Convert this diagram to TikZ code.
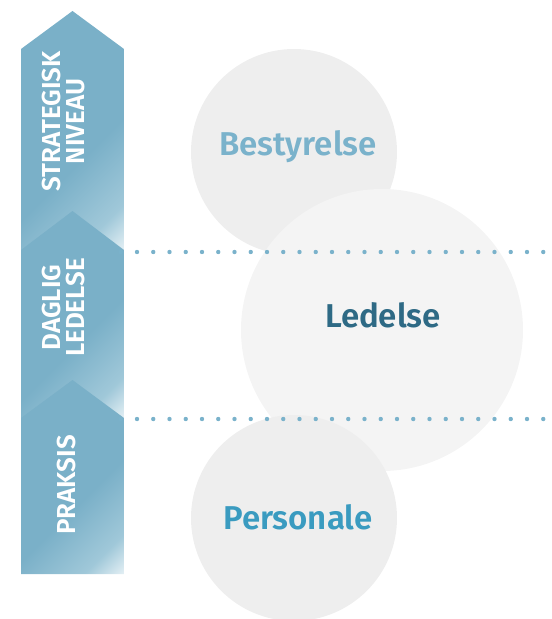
\documentclass[tikz,border=0pt]{standalone}
\usepackage{fontspec}
\setmainfont{Fira Sans}
\newfontfamily\semib{Fira Sans}[UprightFont={* SemiBold}]
\definecolor{segA}{RGB}{122,176,200}
\definecolor{segM}{RGB}{160,200,217}
\definecolor{segB}{RGB}{232,242,246}
\definecolor{dotc}{RGB}{122,178,203}
\definecolor{circA}{RGB}{238,238,238}
\definecolor{circB}{RGB}{244,244,244}
\definecolor{txtA}{RGB}{122,178,203}
\definecolor{txtB}{RGB}{46,106,133}
\definecolor{txtC}{RGB}{58,155,192}
\pgfdeclarehorizontalshading{segfade}{100bp}{color(0bp)=(segA); color(58bp)=(segA); color(76bp)=(segM); color(86bp)=(segB); color(100bp)=(segB)}
\tikzset{
  bigcirc/.style={circle, inner sep=0pt, minimum size=#1},
  circlabel/.style={font=\semib\fontsize{33}{33}\selectfont, inner sep=0pt},
  sidelabel/.style={font=\semib\fontsize{26}{24}\selectfont, text=white, rotate=90, align=center, inner sep=0pt},
  dotline/.style={draw=dotc, line width=4.4pt, line cap=round, dash pattern=on 0pt off 16.25pt}
}
\begin{document}
\begin{tikzpicture}[x=1pt,y=-1pt]
\useasboundingbox (0,0) rectangle (552,619);
% column segments
\begin{scope}
  \clip (21,49) -- (72.5,11) -- (124,49) -- (124,250) -- (21,250) -- cycle;
  \shade[shading=segfade, shading angle=-45] (21,11) rectangle (124,250);
\end{scope}
\begin{scope}
  \clip (21,250) -- (72.5,211) -- (124,250) -- (124,418) -- (21,418) -- cycle;
  \shade[shading=segfade, shading angle=-45] (21,211) rectangle (124,418);
\end{scope}
\begin{scope}
  \clip (21,418) -- (72.5,380) -- (124,418) -- (124,574) -- (21,574) -- cycle;
  \shade[shading=segfade, shading angle=-45] (21,380) rectangle (124,574);
\end{scope}
% side labels
\node[sidelabel] (strat) at (64,121.5) {STRATEGISK\\NIVEAU};
\node[sidelabel] (daglig) at (63.5,307.5) {DAGLIG\\LEDELSE};
\node[sidelabel] (praksis) at (66.5,485) {PRAKSIS};
% circles
\node[bigcirc=206pt, fill=circA] (cbest) at (294,152) {};
\node[bigcirc=282pt, fill=circB] (cled) at (382,330) {};
\node[bigcirc=206pt, fill=circA] (cpers) at (294,518) {};
\node[circlabel, text=txtA] (best) at (298,147) {Bestyrelse};
\node[circlabel, text=txtB] (led) at (383,315) {Ledelse};
\node[circlabel, text=txtC] (pers) at (298,517) {Personale};
% dotted lines
\coordinate (l1s) at (120.75,252);
\coordinate (l1e) at (548,252);
\coordinate (l2s) at (120.75,419);
\coordinate (l2e) at (548,419);
\draw[dotline] (l1s) -- (l1e);
\draw[dotline] (l2s) -- (l2e);
\end{tikzpicture}
\end{document}
